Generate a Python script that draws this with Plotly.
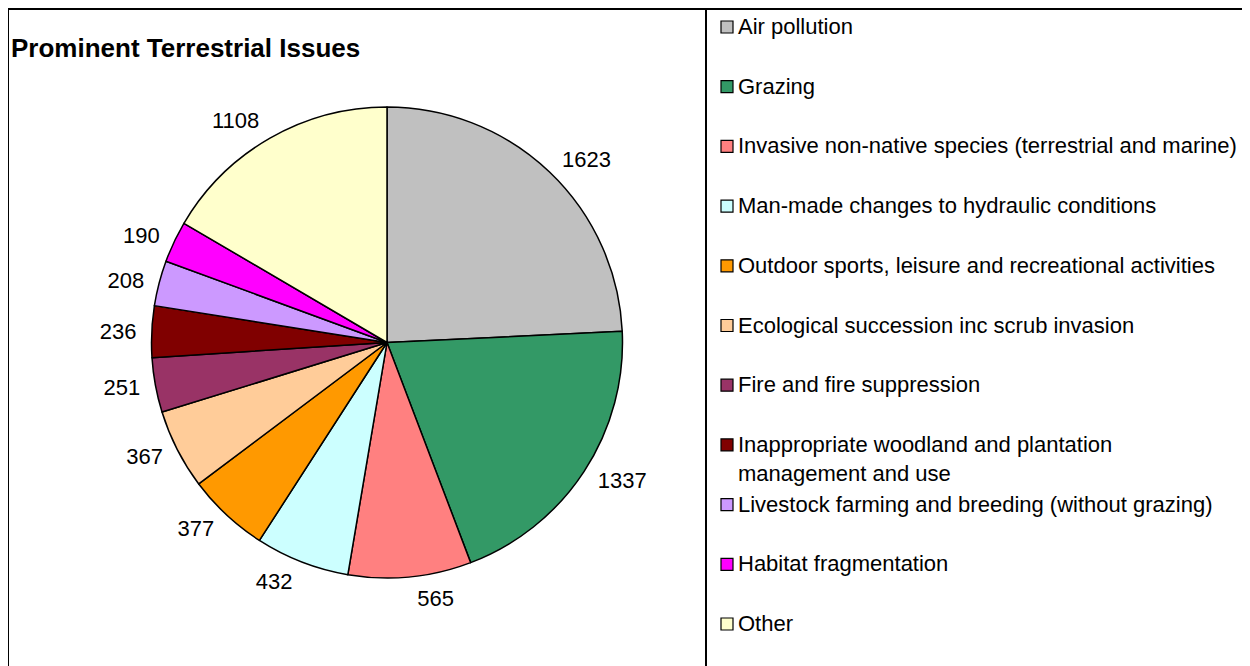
# Prominent terrestrial issues - pie chart with a boxed legend on the right
import plotly.graph_objects as go

categories = [
    "Air pollution",
    "Grazing",
    "Invasive non-native species (terrestrial and marine)",
    "Man-made changes to hydraulic conditions",
    "Outdoor sports, leisure and recreational activities",
    "Ecological succession inc scrub invasion",
    "Fire and fire suppression",
    "Inappropriate woodland and plantation<br>management and use",
    "Livestock farming and breeding (without grazing)",
    "Habitat fragmentation",
    "Other",
]
counts = [1623, 1337, 565, 432, 377, 367, 251, 236, 208, 190, 1108]
slice_colors = [
    "#C0C0C0", "#339966", "#FF8080", "#CCFFFF", "#FF9900", "#FFCC99",
    "#993366", "#800000", "#CC99FF", "#FF00FF", "#FFFFCC",
]

W, H = 1250, 666
OFF = 8  # page body margin pushes the figure 8px right/down
FONT = "Liberation Sans, Arial, sans-serif"


def px_x(x):
    return (x - OFF) / W


def px_y(y):
    return 1 - (y - OFF) / H


fig = go.Figure()

# the visible pie, no text
fig.add_trace(
    go.Pie(
        labels=categories,
        values=counts,
        sort=False,
        direction="clockwise",
        rotation=0,
        marker=dict(colors=slice_colors, line=dict(color="black", width=1.5)),
        textinfo="none",
        hoverinfo="label+value",
        showlegend=False,
        domain=dict(x=[px_x(150), px_x(624)], y=[px_y(578), px_y(107)]),
    )
)

# a slightly bigger transparent pie that only carries the value labels,
# so they sit a bit further out like in the original
fig.add_trace(
    go.Pie(
        labels=categories,
        values=counts,
        sort=False,
        direction="clockwise",
        rotation=0,
        marker=dict(colors=["rgba(0,0,0,0)"] * len(counts), line=dict(width=0)),
        texttemplate="%{value}",
        textposition="outside",
        textfont=dict(family=FONT, size=22, color="black"),
        hoverinfo="skip",
        showlegend=False,
        domain=dict(x=[px_x(141), px_x(633)], y=[px_y(587), px_y(98)]),
    )
)

shapes = [
    # outer border
    dict(type="rect", xref="paper", yref="paper",
         x0=px_x(8), x1=px_x(1262), y0=px_y(700), y1=px_y(9),
         line=dict(color="black", width=2)),
    # legend box
    dict(type="rect", xref="paper", yref="paper",
         x0=px_x(706), x1=px_x(1246), y0=px_y(700), y1=px_y(9),
         line=dict(color="black", width=2)),
]
annotations = [
    dict(text="<b>Prominent Terrestrial Issues</b>", xref="paper", yref="paper",
         x=px_x(9), y=px_y(48), xanchor="left", yanchor="middle",
         showarrow=False, font=dict(family=FONT, size=26, color="black")),
]

# hand-drawn legend, one row every ~60px
for i, (name, col) in enumerate(zip(categories, slice_colors)):
    yc = 27 + 59.7 * i
    shapes.append(dict(type="rect", xref="paper", yref="paper",
                       x0=px_x(721), x1=px_x(733), y0=px_y(yc + 6), y1=px_y(yc - 6),
                       fillcolor=col, line=dict(color="black", width=1.2)))
    annotations.append(dict(text=name, xref="paper", yref="paper",
                            x=px_x(736), y=px_y(yc - 15), xanchor="left", yanchor="top",
                            align="left", showarrow=False,
                            font=dict(family=FONT, size=22, color="black")))

fig.update_layout(
    width=W, height=H,
    margin=dict(l=0, r=0, t=0, b=0),
    paper_bgcolor="white",
    plot_bgcolor="white",
    shapes=shapes,
    annotations=annotations,
)

fig.write_html("out.html")
